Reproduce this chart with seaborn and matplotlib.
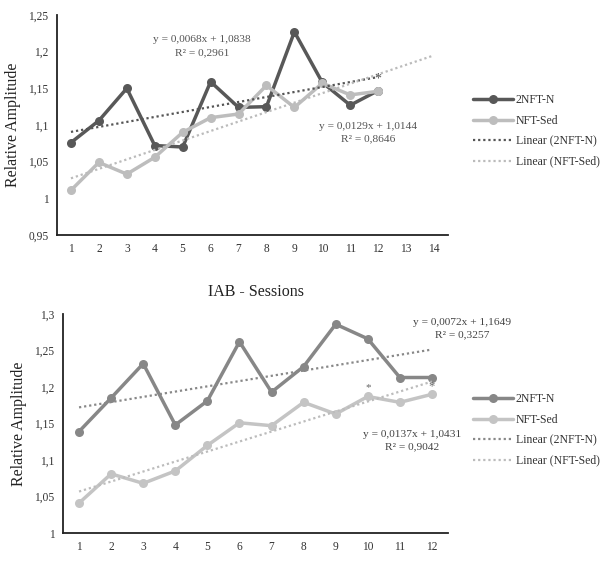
import numpy as np
import pandas as pd
import matplotlib
matplotlib.use("Agg")
import matplotlib.pyplot as plt
import seaborn as sns
from matplotlib.ticker import FuncFormatter, FixedLocator

sns.set_theme(style="white")
plt.rcParams['font.family'] = ['Liberation Serif', 'DejaVu Serif']

# ---- data ----
sessions_top = list(range(1, 13))
top_2nft = [1.076, 1.106, 1.150, 1.072, 1.070, 1.159, 1.124, 1.125, 1.227, 1.158, 1.127, 1.147]
top_sed = [1.011, 1.049, 1.033, 1.056, 1.090, 1.110, 1.115, 1.154, 1.124, 1.157, 1.141, 1.146]
top_fit_2nft = (0.0068, 1.0838)
top_fit_sed = (0.0129, 1.0144)
top_fit_2nft_x = [1, 12]
top_fit_sed_x = [1, 14]
top_xticks = list(range(1, 15))
top_yticks = [0.95, 1.0, 1.05, 1.1, 1.15, 1.2, 1.25]

sessions_bot = list(range(1, 13))
bot_2nft = [1.139, 1.185, 1.232, 1.148, 1.181, 1.262, 1.193, 1.228, 1.286, 1.266, 1.213, 1.213]
bot_sed = [1.041, 1.081, 1.068, 1.085, 1.120, 1.151, 1.147, 1.179, 1.163, 1.187, 1.179, 1.190]
bot_fit_2nft = (0.0072, 1.1649)
bot_fit_sed = (0.0137, 1.0431)
bot_fit_x = [1, 12]
bot_xticks = list(range(1, 13))
bot_yticks = [1.0, 1.05, 1.1, 1.15, 1.2, 1.25, 1.3]

W, H = 604, 568
fig = plt.figure(figsize=(W / 100, H / 100), dpi=100)


def px_axes(l, r, t, b):
    return fig.add_axes([l / W, 1 - b / H, (r - l) / W, (b - t) / H])


def fmt(v, _):
    s = ('%.2f' % v).rstrip('0').rstrip('.')
    return s.replace('.', ',')


def panel(ax, x, y1, y2, c1, c2, fit1, fit2, fx1, fx2, tc1, tc2, xticks, yticks, xlim, ylim):
    sns.lineplot(x=x, y=y1, ax=ax, color=c1, linewidth=2.5, marker='o', markersize=6.5,
                 markeredgewidth=0, label='2NFT-N')
    sns.lineplot(x=x, y=y2, ax=ax, color=c2, linewidth=2.5, marker='o', markersize=6.5,
                 markeredgewidth=0, label='NFT-Sed')
    fx1 = np.array(fx1, dtype=float)
    fx2 = np.array(fx2, dtype=float)
    sns.lineplot(x=fx1, y=fit1[0] * fx1 + fit1[1], ax=ax, color=tc1, linewidth=1.6,
                 label='Linear (2NFT-N)').lines[-1].set_dashes((1.0, 1.3))
    sns.lineplot(x=fx2, y=fit2[0] * fx2 + fit2[1], ax=ax, color=tc2, linewidth=1.6,
                 label='Linear (NFT-Sed)').lines[-1].set_dashes((1.0, 1.3))
    ax.set_xlim(*xlim)
    ax.set_ylim(*ylim)
    ax.xaxis.set_major_locator(FixedLocator(xticks))
    ax.yaxis.set_major_locator(FixedLocator(yticks))
    ax.yaxis.set_major_formatter(FuncFormatter(fmt))
    ax.tick_params(axis='both', length=0, labelsize=8.3, colors='#333333', pad=6)
    for s in ['top', 'right']:
        ax.spines[s].set_visible(False)
    for s in ['left', 'bottom']:
        ax.spines[s].set_color('#222222')
        ax.spines[s].set_linewidth(1.3)
    ax.set_xlabel('')
    ax.set_ylabel('Relative Amplitude', fontsize=11.5, color='#222222', labelpad=5)
    ax.grid(False)


# ---- top panel ----
ax1 = px_axes(57, 448, 15, 235)
panel(ax1, sessions_top, top_2nft, top_sed, '#585858', '#bdbdbd', top_fit_2nft, top_fit_sed,
      top_fit_2nft_x, top_fit_sed_x, '#555555', '#bbbbbb', top_xticks, top_yticks,
      (0.5, 14.5), (0.95, 1.25))
ax1.text(5.7, 1.2165, 'y = 0,0068x + 1,0838', ha='center', va='center', fontsize=8.2, color='#555555')
ax1.text(5.7, 1.1985, 'R² = 0,2961', ha='center', va='center', fontsize=8.2, color='#555555')
ax1.text(11.65, 1.0985, 'y = 0,0129x + 1,0144', ha='center', va='center', fontsize=8.2, color='#555555')
ax1.text(11.65, 1.081, 'R² = 0,8646', ha='center', va='center', fontsize=8.2, color='#555555')
ax1.text(12.0, 1.163, '*', ha='center', va='center', fontsize=10, color='#555555')
ax1.legend(loc='center left', bbox_to_anchor=(468 / W, 1 - 131 / H), bbox_transform=fig.transFigure,
           frameon=False, fontsize=8.5, handlelength=3.4, handletextpad=0.25, labelspacing=0.72,
           labelcolor='#333333', borderaxespad=0)

# ---- bottom panel ----
ax2 = px_axes(63, 448, 314, 533)
panel(ax2, sessions_bot, bot_2nft, bot_sed, '#878787', '#c4c4c4', bot_fit_2nft, bot_fit_sed,
      bot_fit_x, bot_fit_x, '#888888', '#bcbcbc', bot_xticks, bot_yticks,
      (0.5, 12.5), (1.0, 1.3))
ax2.set_title('IAB - Sessions', fontsize=11.5, color='#222222', pad=13)
ax2.text(12.95, 1.289, 'y = 0,0072x + 1,1649', ha='center', va='center', fontsize=8.2, color='#444444')
ax2.text(12.95, 1.271, 'R² = 0,3257', ha='center', va='center', fontsize=8.2, color='#444444')
ax2.text(11.38, 1.1355, 'y = 0,0137x + 1,0431', ha='center', va='center', fontsize=8.2, color='#444444')
ax2.text(11.38, 1.1175, 'R² = 0,9042', ha='center', va='center', fontsize=8.2, color='#444444')
ax2.text(10.0, 1.199, '*', ha='center', va='center', fontsize=8, color='#666666')
ax2.text(12.0, 1.201, '*', ha='center', va='center', fontsize=9, color='#666666')
ax2.legend(loc='center left', bbox_to_anchor=(468 / W, 1 - 430 / H), bbox_transform=fig.transFigure,
           frameon=False, fontsize=8.5, handlelength=3.4, handletextpad=0.25, labelspacing=0.72,
           labelcolor='#333333', borderaxespad=0)
for t in ax2.texts:
    t.set_clip_on(False)

fig.savefig('out.png', dpi=100, facecolor='white')
